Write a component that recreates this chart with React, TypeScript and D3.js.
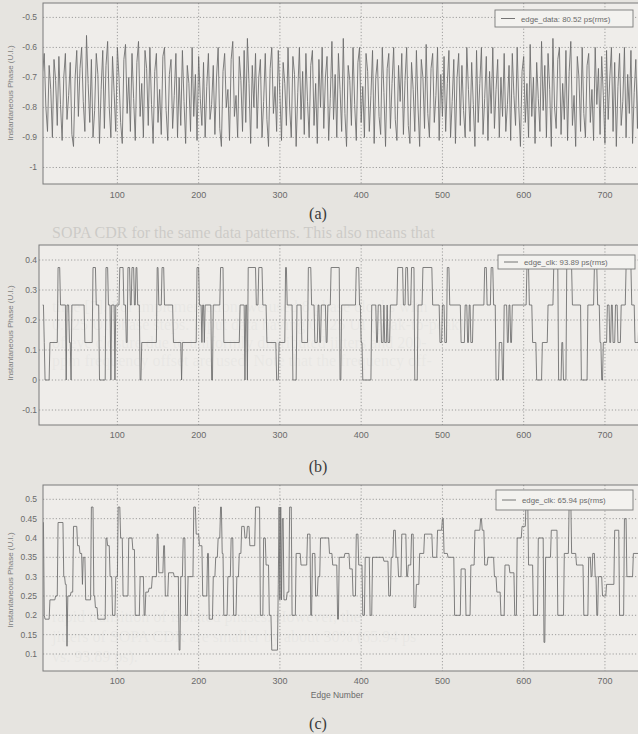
import React, { useEffect, useRef } from "react";
import * as d3 from "d3";

const W = 638;
const H = 734;

// shared x axis: edge number
const edgeTicks = [100, 200, 300, 400, 500, 600, 700];
const lastEdge = 797;

// (a) edge_data, one reading every 2 edges from edge 8
const dataStart = 8;
const dataStep = 2;
const dataPhase = [
  -0.68, -0.62, -0.8, -0.88, -0.66, -0.74, -0.9, -0.64, -0.71, -0.86, -0.63, -0.79,
  -0.91, -0.7, -0.62, -0.84, -0.76, -0.65, -0.89, -0.93, -0.7, -0.61, -0.83, -0.67,
  -0.6, -0.78, -0.88, -0.56, -0.72, -0.85, -0.64, -0.9, -0.81, -0.62, -0.69, -0.92,
  -0.74, -0.61, -0.87, -0.66, -0.58, -0.8, -0.9, -0.63, -0.75, -0.88, -0.6, -0.7,
  -0.85, -0.92, -0.64, -0.59, -0.82, -0.7, -0.88, -0.62, -0.77, -0.91, -0.65, -0.58,
  -0.83, -0.72, -0.9, -0.61, -0.67, -0.86, -0.6, -0.79, -0.92, -0.68, -0.62, -0.85,
  -0.74, -0.89, -0.63, -0.6, -0.81, -0.91, -0.69, -0.64, -0.87, -0.76, -0.62, -0.9,
  -0.7, -0.86, -0.61, -0.78, -0.92, -0.66, -0.72, -0.88, -0.6, -0.83, -0.69, -0.91,
  -0.63, -0.77, -0.86, -0.65, -0.9, -0.73, -0.62, -0.84, -0.79, -0.66, -0.89, -0.7,
  -0.6, -0.87, -0.93, -0.68, -0.62, -0.8, -0.74, -0.91, -0.64, -0.58, -0.83, -0.76,
  -0.9, -0.63, -0.71, -0.88, -0.61, -0.85, -0.57, -0.72, -0.92, -0.66, -0.8, -0.62,
  -0.87, -0.7, -0.64, -0.9, -0.78, -0.62, -0.84, -0.93, -0.67, -0.6, -0.82, -0.73,
  -0.88, -0.61, -0.76, -0.91, -0.65, -0.72, -0.86, -0.6, -0.8, -0.9, -0.63, -0.69,
  -0.93, -0.75, -0.6, -0.84, -0.68, -0.89, -0.62, -0.78, -0.9, -0.66, -0.61, -0.86,
  -0.72, -0.92, -0.64, -0.8, -0.6, -0.87, -0.7, -0.63, -0.91, -0.77, -0.58, -0.84,
  -0.69, -0.9, -0.62, -0.74, -0.88, -0.57, -0.82, -0.93, -0.66, -0.71, -0.86, -0.6,
  -0.79, -0.91, -0.65, -0.6, -0.85, -0.73, -0.9, -0.62, -0.68, -0.88, -0.76, -0.61,
  -0.92, -0.7, -0.64, -0.83, -0.89, -0.6, -0.75, -0.93, -0.67, -0.62, -0.87, -0.72,
  -0.6, -0.84, -0.91, -0.66, -0.78, -0.62, -0.89, -0.71, -0.6, -0.86, -0.92, -0.65,
  -0.74, -0.88, -0.61, -0.8, -0.93, -0.64, -0.7, -0.87, -0.59, -0.82, -0.9, -0.67,
  -0.62, -0.85, -0.76, -0.6, -0.91, -0.69, -0.83, -0.63, -0.88, -0.72, -0.61, -0.9,
  -0.78, -0.64, -0.92, -0.7, -0.62, -0.86, -0.66, -0.81, -0.9, -0.6, -0.74, -0.88,
  -0.65, -0.79, -0.93, -0.61, -0.85, -0.72, -0.6, -0.89, -0.77, -0.63, -0.91, -0.68,
  -0.82, -0.6, -0.87, -0.74, -0.64, -0.9, -0.7, -0.83, -0.62, -0.88, -0.79, -0.66,
  -0.91, -0.62, -0.76, -0.86, -0.6, -0.8, -0.93, -0.68, -0.63, -0.85, -0.72, -0.9,
  -0.59, -0.83, -0.7, -0.92, -0.65, -0.77, -0.88, -0.58, -0.81, -0.66, -0.9, -0.62,
  -0.74, -0.93, -0.57, -0.8, -0.87, -0.64, -0.6, -0.89, -0.72, -0.84, -0.61, -0.91,
  -0.68, -0.58, -0.86, -0.76, -0.93, -0.63, -0.7, -0.88, -0.6, -0.82, -0.9, -0.66,
  -0.62, -0.85, -0.74, -0.91, -0.6, -0.79, -0.67, -0.89, -0.63, -0.76, -0.92, -0.61,
  -0.84, -0.7, -0.6, -0.88, -0.65, -0.93, -0.73, -0.62, -0.86, -0.78, -0.6, -0.9,
  -0.69, -0.82, -0.61, -0.92, -0.75, -0.64, -0.87, -0.6, -0.8, -0.9, -0.66, -0.72,
  -0.88, -0.62, -0.78, -0.91, -0.6, -0.85, -0.7, -0.63, -0.89, -0.74, -0.61, -0.86,
  -0.92, -0.66, -0.73, -0.6, -0.87, -0.79, -0.64, -0.9, -0.68, -0.62, -0.84, -0.76,
];

// (b) edge_clk: edge where each run starts, and its phase (U.I.)
const clkBStart = [
  8, 10, 11, 17, 27, 30, 37, 38, 41, 43, 44, 60, 70, 74, 78, 86, 89, 92, 93, 97,
  98, 103, 108, 111, 113, 116, 118, 121, 123, 125, 128, 130, 149, 151, 155, 158, 169, 179, 180, 198,
  201, 204, 205, 207, 208, 216, 218, 227, 231, 251, 257, 258, 260, 261, 271, 274, 279, 284, 296, 299,
  307, 309, 316, 321, 327, 335, 339, 343, 347, 349, 351, 357, 359, 363, 374, 376, 394, 398, 400, 402,
  413, 419, 421, 425, 428, 429, 432, 433, 436, 445, 452, 455, 458, 462, 466, 470, 476, 488, 497, 500,
  503, 506, 509, 523, 528, 531, 533, 535, 538, 552, 555, 560, 563, 566, 570, 574, 576, 580, 582, 584,
  586, 604, 607, 611, 616, 623, 630, 637, 643, 647, 649, 653, 660, 671, 679, 687, 691, 694, 696, 698,
  703, 706, 708, 710, 713, 716, 720, 726, 733, 737, 742, 750, 753, 760, 764, 770, 778, 781, 785,
];
const clkBPhase = [
  0.25, 0.125, 0, 0.125, 0.375, 0.25, 0, 0.25, 0.125, 0, 0.25, 0.125, 0.375, 0.25, 0, 0.375, 0.25, 0, 0.25, 0,
  0.25, 0.375, 0.25, 0.125, 0.375, 0.25, 0.375, 0.25, 0.375, 0.25, 0, 0.125, 0.375, 0.25, 0.375, 0.25, 0.125, 0, 0.125, 0.375,
  0.25, 0.125, 0.25, 0.125, 0.25, 0, 0.25, 0.375, 0.125, 0.25, 0, 0.25, 0, 0.375, 0.25, 0.375, 0.25, 0.125, 0, 0.125,
  0.375, 0.25, 0, 0.25, 0.125, 0.375, 0.25, 0.125, 0.25, 0.125, 0.25, 0.125, 0.25, 0.375, 0, 0.25, 0.375, 0.25, 0.125, 0,
  0.25, 0.125, 0.25, 0.125, 0.25, 0.125, 0.25, 0.125, 0.25, 0.375, 0.25, 0.375, 0.25, 0.375, 0, 0.25, 0.375, 0.25, 0.125, 0.25,
  0.125, 0.375, 0.25, 0.125, 0.25, 0.125, 0.25, 0.125, 0.25, 0.375, 0.25, 0.375, 0.25, 0, 0.125, 0, 0.25, 0.125, 0.25, 0.125,
  0.25, 0.375, 0.25, 0.125, 0, 0.125, 0.25, 0.375, 0, 0.125, 0, 0.375, 0.25, 0, 0.25, 0.375, 0.25, 0.125, 0, 0.125,
  0.25, 0.125, 0.25, 0.125, 0.25, 0.125, 0.25, 0.375, 0.25, 0.125, 0.25, 0, 0.25, 0.375, 0.125, 0.25, 0, 0.375, 0.25,
];

// (c) edge_clk (SOPA): edge where each run starts, and its phase (U.I.)
const clkCStart = [
  8, 10, 11, 17, 24, 27, 34, 36, 38, 39, 43, 46, 51, 54, 57, 58, 61, 68, 71, 73,
  76, 86, 88, 91, 94, 98, 101, 104, 107, 114, 119, 122, 128, 133, 135, 139, 143, 149, 151, 157,
  159, 163, 170, 176, 178, 181, 184, 187, 194, 197, 201, 205, 211, 213, 218, 221, 224, 227, 229, 231,
  236, 240, 243, 247, 250, 253, 257, 260, 263, 270, 276, 280, 283, 287, 290, 298, 299, 300, 301, 302,
  303, 305, 309, 312, 315, 320, 326, 334, 338, 340, 344, 347, 350, 361, 365, 371, 373, 380, 386, 390,
  394, 397, 402, 405, 411, 414, 428, 434, 437, 440, 443, 446, 450, 456, 458, 462, 465, 468, 472, 478,
  488, 494, 500, 502, 507, 515, 523, 529, 535, 540, 547, 549, 552, 556, 564, 567, 572, 577, 583, 589,
  592, 598, 603, 606, 612, 618, 625, 627, 634, 642, 650, 656, 659, 665, 674, 680, 683, 685, 688, 690,
  692, 697, 702, 712, 718, 724, 727, 735, 745, 760,
];
const clkCPhase = [
  0.44, 0.2, 0.19, 0.24, 0.25, 0.44, 0.3, 0.28, 0.12, 0.25, 0.26, 0.43, 0.38, 0.36, 0.28, 0.35, 0.24, 0.48, 0.25, 0.22,
  0.19, 0.4, 0.38, 0.3, 0.2, 0.3, 0.48, 0.4, 0.25, 0.4, 0.37, 0.2, 0.3, 0.2, 0.26, 0.27, 0.3, 0.41, 0.31, 0.38,
  0.25, 0.31, 0.3, 0.11, 0.3, 0.4, 0.2, 0.3, 0.48, 0.41, 0.38, 0.25, 0.36, 0.19, 0.3, 0.35, 0.4, 0.48, 0.36, 0.2,
  0.3, 0.4, 0.2, 0.3, 0.36, 0.43, 0.4, 0.43, 0.38, 0.48, 0.2, 0.4, 0.33, 0.2, 0.11, 0.28, 0.48, 0.24, 0.48, 0.24,
  0.45, 0.24, 0.26, 0.48, 0.2, 0.36, 0.33, 0.41, 0.2, 0.36, 0.25, 0.3, 0.4, 0.36, 0.33, 0.19, 0.35, 0.36, 0.32, 0.25,
  0.41, 0.33, 0.2, 0.35, 0.2, 0.35, 0.34, 0.25, 0.35, 0.42, 0.35, 0.3, 0.41, 0.3, 0.33, 0.41, 0.22, 0.28, 0.36, 0.41,
  0.35, 0.42, 0.45, 0.36, 0.35, 0.2, 0.32, 0.2, 0.33, 0.42, 0.45, 0.42, 0.33, 0.35, 0.3, 0.26, 0.2, 0.33, 0.31, 0.2,
  0.4, 0.43, 0.5, 0.33, 0.2, 0.4, 0.13, 0.35, 0.42, 0.2, 0.36, 0.5, 0.36, 0.33, 0.2, 0.35, 0.3, 0.36, 0.3, 0.2,
  0.3, 0.25, 0.28, 0.42, 0.2, 0.45, 0.3, 0.36, 0.3, 0.38,
];

const yTicksA = [-0.5, -0.6, -0.7, -0.8, -0.9, -1];
const yTicksB = [0.4, 0.3, 0.2, 0.1, 0, -0.1];
const yTicksC = [0.5, 0.45, 0.4, 0.35, 0.3, 0.25, 0.2, 0.15, 0.1];

const legendA = "edge_data: 80.52 ps(rms)";
const legendB = "edge_clk: 93.89 ps(rms)";
const legendC = "edge_clk: 65.94 ps(rms)";
const yTitle = "Instantaneous Phase (U.I.)";
const xTitle = "Edge Number";

// page text showing through the scan
const pageLines: [number, string][] = [
  [238, "SOPA CDR for the same data patterns. This also means that"],
  [312, "time [7]. For implementation, we used 8 phase clocks with"],
  [330, "0.125 UI phase steps. Input data having 0.125 UI (peak-to-peak)"],
  [348, "of eye closure due to uniformly distributed jitters and 200-"],
  [366, "ppm frequency offset are used. Note that the frequency off-"],
  [622, "rapid transition of isolated phases. However, the"],
  [642, "jitters of SOPA CDR are smaller by about 30% (65.94 ps"],
  [662, "vs. 93.89 ps)."],
];

function runsToPoints(starts: number[], phases: number[]): [number, number][] {
  const pts: [number, number][] = [];
  starts.forEach((s, i) => {
    const next = i < starts.length - 1 ? starts[i + 1] : lastEdge;
    pts.push([s, phases[i]]);
    if (next - 1 > s) pts.push([next - 1, phases[i]]);
  });
  return pts;
}

const panels = [
  {
    id: "a", top: 3, bottom: 184, left: 43, yDomain: [-1.055, -0.452],
    yTicks: yTicksA, tickY: 198, yTitleY: 93, caption: "(a)", captionY: 219,
    points: dataPhase.map((v, i) => [dataStart + i * dataStep, v] as [number, number]),
    legend: legendA, legendBox: [495, 10, 138, 17], showXTitle: false,
  },
  {
    id: "b", top: 245, bottom: 425, left: 39, yDomain: [-0.15, 0.45],
    yTicks: yTicksB, tickY: 438, yTitleY: 333, caption: "(b)", captionY: 472,
    points: runsToPoints(clkBStart, clkBPhase),
    legend: legendB, legendBox: [498, 255, 137, 14], showXTitle: false,
  },
  {
    id: "c", top: 485, bottom: 671, left: 43, yDomain: [0.056, 0.537],
    yTicks: yTicksC, tickY: 684, yTitleY: 580, caption: "(c)", captionY: 729,
    points: runsToPoints(clkCStart, clkCPhase),
    legend: legendC, legendBox: [496, 490, 137, 20], showXTitle: true,
  },
];

export default function App() {
  const ref = useRef<SVGSVGElement>(null);

  useEffect(() => {
    const svg = d3.select(ref.current);
    svg.selectAll("*").remove();

    svg.append("rect").attr("width", W).attr("height", H).attr("fill", "#e6e4e0");

    const x = d3.scaleLinear().domain([6, 800]).range([41, 686.2]);

    // faint text from the page underneath
    svg.append("g")
      .selectAll("text")
      .data(pageLines)
      .enter()
      .append("text")
      .attr("x", 52)
      .attr("y", (d) => d[0])
      .attr("font-family", "Liberation Serif, Times New Roman, serif")
      .attr("font-size", 16)
      .attr("fill", "#000")
      .attr("opacity", 0.11)
      .text((d) => d[1]);

    panels.forEach((p) => {
      const g = svg.append("g");
      const y = d3.scaleLinear().domain(p.yDomain).range([p.bottom, p.top]);
      const right = 700;

      g.append("rect")
        .attr("x", p.left).attr("y", p.top)
        .attr("width", right - p.left).attr("height", p.bottom - p.top)
        .attr("fill", "#f1f0ed").attr("opacity", 0.75);

      const clipId = "clip-" + p.id;
      g.append("clipPath").attr("id", clipId)
        .append("rect")
        .attr("x", p.left).attr("y", p.top)
        .attr("width", right - p.left).attr("height", p.bottom - p.top);

      // grid
      g.selectAll(".gy").data(p.yTicks).enter().append("line")
        .attr("x1", p.left).attr("x2", right)
        .attr("y1", (d) => y(d)).attr("y2", (d) => y(d))
        .attr("stroke", "#8c8c8c").attr("stroke-width", 0.8)
        .attr("stroke-dasharray", "1.2,2");
      g.selectAll(".gx").data(edgeTicks).enter().append("line")
        .attr("x1", (d) => x(d)).attr("x2", (d) => x(d))
        .attr("y1", p.top).attr("y2", p.bottom)
        .attr("stroke", "#8c8c8c").attr("stroke-width", 0.8)
        .attr("stroke-dasharray", "1.2,2");

      // trace
      const line = d3.line<[number, number]>().x((d) => x(d[0])).y((d) => y(d[1]));
      g.append("path")
        .attr("clip-path", `url(#${clipId})`)
        .attr("d", line(p.points as [number, number][]))
        .attr("fill", "none")
        .attr("stroke", "#6a6a6a")
        .attr("stroke-width", 0.85);

      // frame
      g.append("rect")
        .attr("x", p.left).attr("y", p.top)
        .attr("width", right - p.left).attr("height", p.bottom - p.top)
        .attr("fill", "none").attr("stroke", "#7a7a7a").attr("stroke-width", 1);

      // tick labels
      g.selectAll(".ty").data(p.yTicks).enter().append("text")
        .attr("x", 37).attr("y", (d) => y(d) + 3)
        .attr("text-anchor", "end")
        .attr("font-family", "Liberation Sans, Arial, sans-serif")
        .attr("font-size", 8.5).attr("fill", "#6a6a6a")
        .text((d) => String(d));
      g.selectAll(".tx").data(edgeTicks).enter().append("text")
        .attr("x", (d) => x(d)).attr("y", p.tickY)
        .attr("text-anchor", "middle")
        .attr("font-family", "Liberation Sans, Arial, sans-serif")
        .attr("font-size", 9).attr("fill", "#6a6a6a")
        .text((d) => String(d));

      // y title
      g.append("text")
        .attr("transform", `translate(13,${p.yTitleY}) rotate(-90)`)
        .attr("text-anchor", "middle")
        .attr("font-family", "Liberation Sans, Arial, sans-serif")
        .attr("font-size", 8).attr("fill", "#7d7d7d")
        .text(yTitle);

      // legend
      const [lx, ly, lw, lh] = p.legendBox;
      g.append("rect")
        .attr("x", lx).attr("y", ly).attr("width", lw).attr("height", lh)
        .attr("fill", "#f3f2ef").attr("stroke", "#7a7a7a").attr("stroke-width", 0.9);
      g.append("line")
        .attr("x1", lx + 6).attr("x2", lx + 20)
        .attr("y1", ly + lh / 2).attr("y2", ly + lh / 2)
        .attr("stroke", "#666").attr("stroke-width", 0.9);
      g.append("text")
        .attr("x", lx + 26).attr("y", ly + lh / 2 + 3)
        .attr("font-family", "Liberation Sans, Arial, sans-serif")
        .attr("font-size", 7.8).attr("fill", "#6a6a6a")
        .text(p.legend);

      if (p.showXTitle) {
        g.append("text")
          .attr("x", 337).attr("y", 698)
          .attr("text-anchor", "middle")
          .attr("font-family", "Liberation Sans, Arial, sans-serif")
          .attr("font-size", 8.5).attr("fill", "#6a6a6a")
          .text(xTitle);
      }

      svg.append("text")
        .attr("x", 318).attr("y", p.captionY)
        .attr("text-anchor", "middle")
        .attr("font-family", "Liberation Serif, Times New Roman, serif")
        .attr("font-size", 16).attr("fill", "#3a3a3a")
        .text(p.caption);
    });
  }, []);

  return (
    <svg
      ref={ref}
      width={W}
      height={H}
      style={{ position: "absolute", left: 0, top: 0 }}
    />
  );
}
